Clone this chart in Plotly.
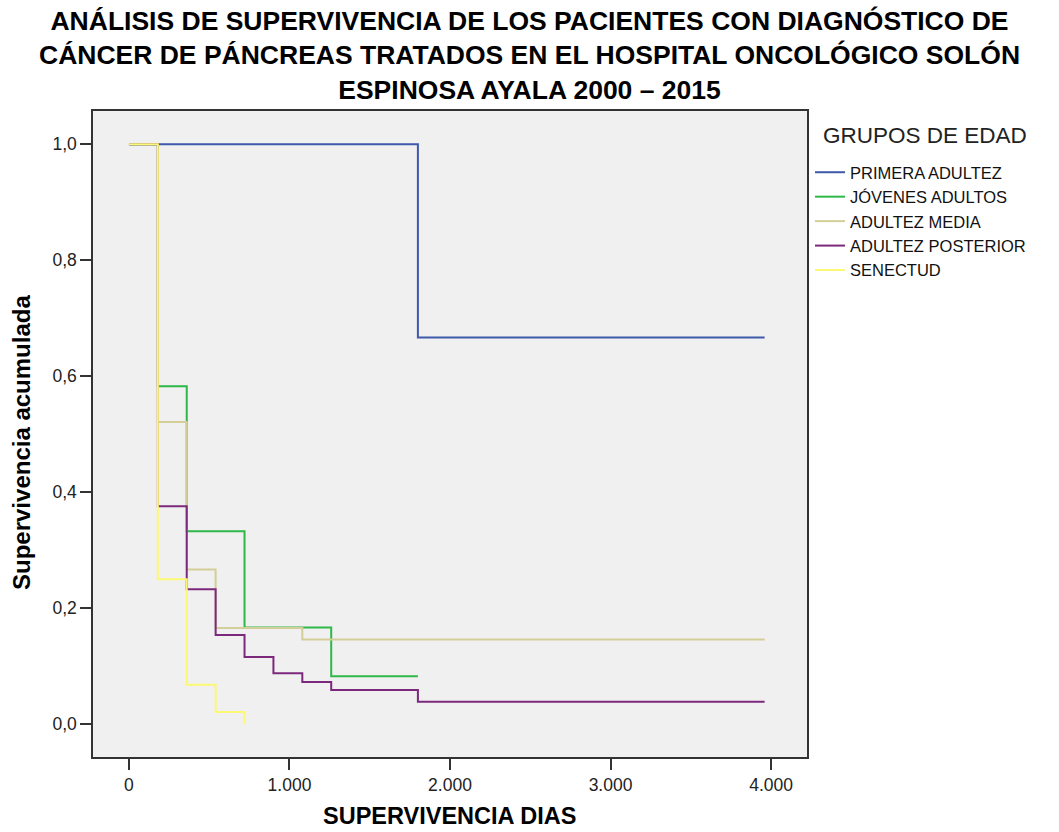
import plotly.graph_objects as go

# ---- data ----
groups = ["PRIMERA ADULTEZ", "JÓVENES ADULTOS", "ADULTEZ MEDIA", "ADULTEZ POSTERIOR", "SENECTUD"]
colors = ["#3E58AC", "#2EB848", "#D3CE97", "#7C287D", "#FBF873"]

t_primera = [0, 1800, 3960]
s_primera = [1.0, 0.667, 0.667]

t_jovenes = [0, 180, 360, 720, 1260, 1800]
s_jovenes = [1.0, 0.583, 0.333, 0.167, 0.083, 0.083]

t_media = [0, 180, 360, 540, 1080, 3960]
s_media = [1.0, 0.521, 0.267, 0.166, 0.146, 0.146]

t_posterior = [0, 180, 360, 540, 720, 900, 1080, 1260, 1800, 3960]
s_posterior = [1.0, 0.376, 0.233, 0.154, 0.116, 0.088, 0.073, 0.059, 0.039, 0.039]

t_senectud = [0, 180, 360, 540, 720]
s_senectud = [1.0, 0.25, 0.068, 0.021, 0.0]

x_ticks = [0, 1000, 2000, 3000, 4000]
y_ticks = [0.0, 0.2, 0.4, 0.6, 0.8, 1.0]

title_lines = ["ANÁLISIS DE SUPERVIVENCIA DE LOS PACIENTES CON DIAGNÓSTICO DE",
               "CÁNCER DE PÁNCREAS TRATADOS EN EL HOSPITAL ONCOLÓGICO SOLÓN",
               "ESPINOSA AYALA 2000 – 2015"]

series = [(t_primera, s_primera), (t_jovenes, s_jovenes), (t_media, s_media),
          (t_posterior, s_posterior), (t_senectud, s_senectud)]

# layout geometry (pixels)
W, H = 1059, 832
L, R, T, B = 93, 252, 111, 75
PW, PH = W - L - R, H - T - B


def px_x(x):
    return (x - L) / PW


def px_y(y):
    return (H - B - y) / PH


fig = go.Figure()
for i in range(len(groups)):
    t, s = series[i]
    fig.add_trace(go.Scatter(
        x=t, y=s, mode="lines", name=groups[i],
        line=dict(color=colors[i], width=2, shape="hv"),
    ))

annotations = [
    dict(text="<b>" + "<br>".join(title_lines) + "</b>", xref="paper", yref="paper",
         x=px_x(529.5), y=px_y(56), xanchor="center", yanchor="middle",
         showarrow=False,
         font=dict(family="Liberation Sans, Arial, sans-serif", size=26.5, color="black")),
    dict(text="<b>SUPERVIVENCIA DIAS</b>", xref="paper", yref="paper",
         x=px_x(449.5), y=px_y(831), xanchor="center", yanchor="bottom",
         showarrow=False, font=dict(size=23.5, color="black")),
    dict(text="<b>Supervivencia acumulada</b>", xref="paper", yref="paper",
         x=px_x(22), y=px_y(443), xanchor="center", yanchor="middle",
         textangle=-90, showarrow=False, font=dict(size=24, color="black")),
    dict(text="GRUPOS DE EDAD", xref="paper", yref="paper",
         x=px_x(821), y=px_y(135), xanchor="left", yanchor="middle",
         showarrow=False, font=dict(size=22.5, color="#222222")),
]

fig.update_layout(
    width=W, height=H,
    margin=dict(l=L, r=R, t=T, b=B),
    paper_bgcolor="white",
    plot_bgcolor="#F0F0F0",
    separators=",.",
    font=dict(family="Liberation Sans, Arial, sans-serif", color="#222222", size=17),
    showlegend=True,
    legend=dict(
        x=px_x(810), y=px_y(155), xanchor="left", yanchor="top",
        bgcolor="rgba(0,0,0,0)",
        font=dict(size=16.5, color="#111111"),
        itemwidth=30, tracegroupgap=0,
    ),
    xaxis=dict(
        range=[-224, 4224], tickvals=x_ticks, tickformat=",d",
        showgrid=False, zeroline=False,
        showline=True, mirror=True, linecolor="#333333", linewidth=1.5,
        ticks="outside", ticklen=11, tickwidth=1.5, tickcolor="#333333",
        tickfont=dict(size=17.5, color="#222222"),
    ),
    yaxis=dict(
        range=[-0.0564, 1.0574], tickvals=y_ticks, tickformat=".1f",
        showgrid=False, zeroline=False,
        showline=True, mirror=True, linecolor="#333333", linewidth=1.5,
        ticks="outside", ticklen=11, tickwidth=1.5, tickcolor="#333333",
        tickfont=dict(size=17.5, color="#222222"),
    ),
    annotations=annotations,
)

fig.write_html("out.html")
